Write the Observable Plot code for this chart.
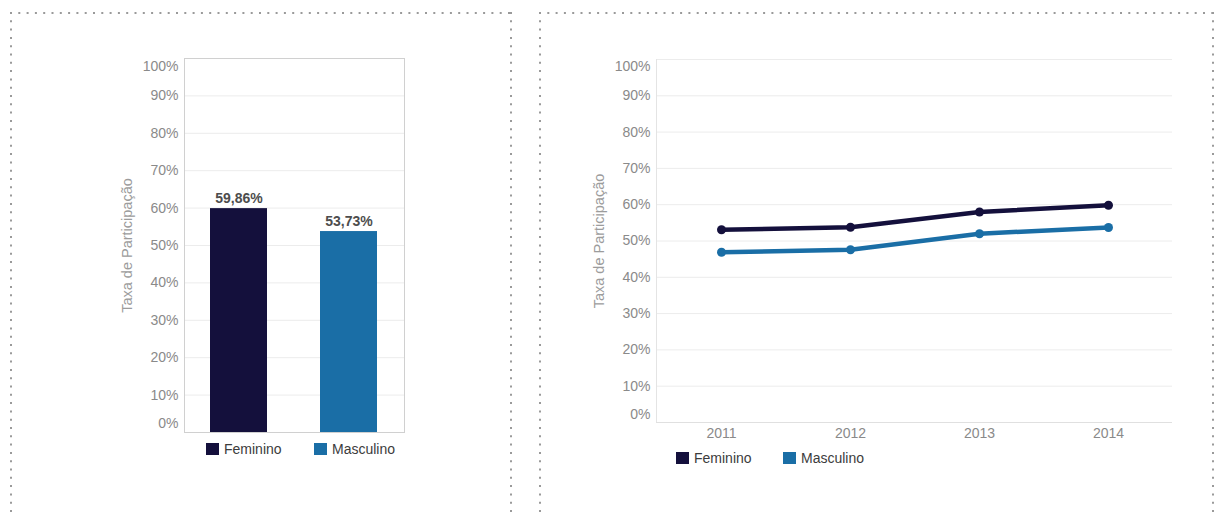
<!DOCTYPE html>
<html><head><meta charset="utf-8">
<script src="https://cdn.jsdelivr.net/npm/d3@7"></script>
<script src="https://cdn.jsdelivr.net/npm/@observablehq/plot@0.6"></script>
<style>
body{margin:0;width:1217px;height:514px;position:relative;overflow:hidden;background:#fff;font-family:"Liberation Sans",Arial,sans-serif;}
.abs{position:absolute;}
.lg{position:absolute;display:flex;align-items:center;height:16px;font-size:14px;color:#3c3c3c;white-space:nowrap;}
.sw{display:inline-block;width:13px;height:12px;margin-right:5px;}
</style></head><body>
<svg class="abs" style="left:0;top:0" width="1217" height="514">
  <g stroke="#9a9a9a" stroke-width="2" stroke-dasharray="2 6.3" fill="none">
    <line x1="10" y1="13" x2="511" y2="13"/>
    <line x1="11" y1="12" x2="11" y2="514"/>
    <line x1="511" y1="12" x2="511" y2="514"/>
    <line x1="539" y1="13" x2="1214" y2="13"/>
    <line x1="540" y1="12" x2="540" y2="514"/>
    <line x1="1213" y1="12" x2="1213" y2="514"/>
  </g>
</svg>
<div id="left" class="abs" style="left:0;top:0"></div>
<div id="right" class="abs" style="left:540px;top:0"></div>
<script>
// ---- data ----
const sexes = ["Feminino", "Masculino"];
const sexColors = ["#14103c", "#1a6ea6"];
const rate2014 = [59.86, 53.73];
const rateLabels = ["59,86%", "53,73%"];
const years = ["2011", "2012", "2013", "2014"];
const feminino = [53.1, 53.8, 58.0, 59.86];
const masculino = [46.9, 47.6, 52.0, 53.73];
const yTicks = [0, 10, 20, 30, 40, 50, 60, 70, 80, 90, 100];
const yTitle = "Taxa de Participação";

const font = '"Liberation Sans", Arial, sans-serif';
const pct = d => d + "%";
const midTicks = yTicks.filter(t => t > 0 && t < 100);
const firstTick = [yTicks[0]];
const lastTick = [yTicks[yTicks.length - 1]];

function yAxes(dyLow, dyHigh) {
  const common = {tickSize: 0, tickPadding: 6, tickFormat: pct, fill: "#8a8a8a", label: null, fontSize: 14};
  return [
    Plot.axisY(midTicks, common),
    Plot.axisY(firstTick, {...common, dy: dyLow}),
    Plot.axisY(lastTick, {...common, dy: dyHigh})
  ];
}
function titleMark() {
  return Plot.text([yTitle], {text: d => d, frameAnchor: "left", textAnchor: "middle", rotate: -90,
    dx: -57, fill: "#9c9c9c", fontSize: 14.5});
}

// ---- left: bar chart ----
const barData = sexes.map((s, i) => ({sex: s, value: rate2014[i], label: rateLabels[i]}));
const left = Plot.plot({
  width: 520, height: 440,
  marginLeft: 184, marginRight: 116, marginTop: 58, marginBottom: 8,
  style: {fontFamily: font, fontSize: "14px", background: "transparent", overflow: "visible"},
  x: {domain: sexes, paddingInner: 0.48, paddingOuter: 0.24, axis: null},
  y: {domain: [0, 100]},
  color: {domain: sexes, range: sexColors},
  marks: [
    Plot.gridY(midTicks, {stroke: "#ececec", strokeOpacity: 1}),
    Plot.barY(barData, {x: "sex", y: "value", fill: "sex"}),
    Plot.frame({stroke: "#d0d0d0"}),
    ...yAxes(-9, 8),
    Plot.text(barData, {x: "sex", y: "value", text: "label", lineAnchor: "bottom", dy: -6,
      fontWeight: "bold", fontSize: 14, fill: "#4d4d4d"}),
    titleMark()
  ]
});
document.getElementById("left").append(left);

// ---- right: line chart ----
const lineData = years.flatMap((y, i) => [
  {year: y, sex: sexes[0], value: feminino[i]},
  {year: y, sex: sexes[1], value: masculino[i]}
]);
const right = Plot.plot({
  width: 677, height: 440,
  marginLeft: 116, marginRight: 45, marginTop: 59, marginBottom: 18,
  style: {fontFamily: font, fontSize: "14px", background: "transparent", overflow: "visible"},
  x: {type: "point", domain: years, padding: 0.5},
  y: {domain: [0, 100]},
  color: {domain: sexes, range: sexColors},
  marks: [
    Plot.gridY(midTicks.concat(lastTick), {stroke: "#ececec", strokeOpacity: 1}),
    Plot.frame({anchor: "left", stroke: "#e4e4e4"}),
    Plot.ruleY(firstTick, {stroke: "#e0e0e0"}),
    Plot.line(lineData, {x: "year", y: "value", z: "sex", stroke: "sex", strokeWidth: 4.5}),
    Plot.dot(lineData, {x: "year", y: "value", fill: "sex", r: 4.5}),
    Plot.axisX({tickSize: 0, tickPadding: 6, fill: "#8a8a8a", label: null, fontSize: 14}),
    ...yAxes(-8, 7),
    titleMark()
  ]
});
document.getElementById("right").append(right);

// ---- legends ----
function legend(positions, top) {
  sexes.forEach((s, i) => {
    const d = document.createElement("div");
    d.className = "lg";
    d.style.left = positions[i] + "px";
    d.style.top = top + "px";
    const sw = document.createElement("span");
    sw.className = "sw";
    sw.style.background = sexColors[i];
    d.append(sw, document.createTextNode(s));
    document.body.append(d);
  });
}
legend([206, 314], 441);
legend([676, 783], 450);
</script>
</body></html>
